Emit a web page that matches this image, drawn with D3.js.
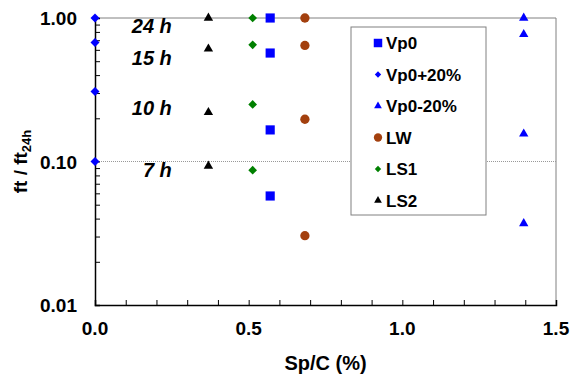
<!DOCTYPE html>
<html>
<head>
<meta charset="utf-8">
<script src="https://cdn.jsdelivr.net/npm/d3@7"></script>
<style>
  body { margin: 0; background: #fff; }
  text { font-family: Arial, "Liberation Sans", sans-serif; font-weight: bold; }
</style>
</head>
<body>
<div id="chart"></div>
<script>
// series x positions (Sp/C %) and ft/ft24h values, ordered 24h, 15h, 10h, 7h
const seriesNames = ["Vp0", "Vp0+20%", "Vp0-20%", "LW", "LS1", "LS2"];
const seriesX = [0.57, 0.0, 1.395, 0.683, 0.513, 0.369];
const vp0 = [1.0, 0.57, 0.166, 0.0575];
const vp0Plus = [1.0, 0.676, 0.307, 0.1];
const vp0Minus = [1.0, 0.77, 0.156, 0.037];
const lw = [1.0, 0.644, 0.197, 0.0304];
const ls1 = [1.0, 0.65, 0.25, 0.087];
const ls2 = [1.0, 0.61, 0.22, 0.093];
const seriesValues = [vp0, vp0Plus, vp0Minus, lw, ls1, ls2];

const hourLabels = ["24 h", "15 h", "10 h", "7 h"];
const hourLabelY = [0.78, 0.472, 0.211, 0.078];

const xTicks = [0.0, 0.5, 1.0, 1.5];
const yTicks = [1.0, 0.1, 0.01];

// diamonds are squares turned 45 degrees
const shapes = ["square", "diamond", "triangle", "circle", "diamond", "triangle"];
const colors = ["#0000ff", "#0000ff", "#0000ff", "#a3400e", "#008000", "#000000"];
const sizes = [84, 40, 38, 68, 38, 38];
const legendSizes = [72, 20, 26, 54, 20, 26];

function marker(shape, size) {
    const type = { square: d3.symbolSquare, diamond: d3.symbolSquare, triangle: d3.symbolTriangle, circle: d3.symbolCircle }[shape];
    return d3.symbol().type(type).size(size)();
}
const rot = shape => shape === "diamond" ? " rotate(45)" : "";

const width = 572, height = 379;
const margin = { top: 18, right: 16, bottom: 74, left: 95 };

const svg = d3.select("#chart").append("svg")
    .attr("width", width)
    .attr("height", height);

const x = d3.scaleLinear().domain([0, 1.5]).range([margin.left, width - margin.right]);
const y = d3.scaleLog().domain([0.01, 1]).range([height - margin.bottom, margin.top]);

// frame lines (top, right) and grid at 0.10
svg.append("line")
    .attr("x1", x(0)).attr("x2", x(1.5))
    .attr("y1", y(1)).attr("y2", y(1))
    .attr("stroke", "#808080").attr("stroke-width", 1);
svg.append("line")
    .attr("x1", x(1.5)).attr("x2", x(1.5))
    .attr("y1", y(1)).attr("y2", y(0.01))
    .attr("stroke", "#808080").attr("stroke-width", 1);
svg.append("line")
    .attr("x1", x(0)).attr("x2", x(1.5))
    .attr("y1", y(0.1)).attr("y2", y(0.1))
    .attr("stroke", "#999").attr("stroke-width", 1)
    .attr("stroke-dasharray", "1,1");

// x axis: ticks inside every 0.1
const xAxis = d3.axisBottom(x)
    .tickValues(d3.range(0, 1.51, 0.1))
    .tickSize(-5)
    .tickFormat("");
svg.append("g")
    .attr("transform", `translate(0,${y(0.01)})`)
    .call(xAxis)
    .call(g => g.select(".domain").attr("stroke", "#000").attr("stroke-width", 1.5))
    .call(g => g.selectAll(".tick line").attr("stroke", "#000"));

svg.selectAll(".xlab")
    .data(xTicks)
    .enter().append("text")
    .attr("x", d => x(d))
    .attr("y", y(0.01) + 30)
    .attr("text-anchor", "middle")
    .attr("font-size", 19)
    .text(d => d.toFixed(1));

// y axis: log minor ticks inside
const yMinor = [];
[0.01, 0.1].forEach(dec => { for (let k = 1; k <= 9; k++) yMinor.push(dec * k); });
yMinor.push(1);
const yAxis = d3.axisLeft(y)
    .tickValues(yMinor)
    .tickSize(-5)
    .tickFormat("");
svg.append("g")
    .attr("transform", `translate(${x(0)},0)`)
    .call(yAxis)
    .call(g => g.select(".domain").attr("stroke", "#000").attr("stroke-width", 1.5))
    .call(g => g.selectAll(".tick line").attr("stroke", "#000"));

svg.selectAll(".ylab")
    .data(yTicks)
    .enter().append("text")
    .attr("x", x(0) - 18)
    .attr("y", d => y(d) + 7)
    .attr("text-anchor", "end")
    .attr("font-size", 19)
    .text(d => d.toFixed(2));

// axis titles
svg.append("text")
    .attr("x", (x(0) + x(1.5)) / 2)
    .attr("y", 370)
    .attr("text-anchor", "middle")
    .attr("font-size", 20)
    .text("Sp/C (%)");

const yTitle = svg.append("text")
    .attr("transform", `translate(27,${(y(1) + y(0.01)) / 2}) rotate(-90)`)
    .attr("text-anchor", "middle")
    .attr("font-size", 19);
yTitle.append("tspan").text("ft / ft");
yTitle.append("tspan").attr("font-size", 13).attr("dy", 4).text("24h");

// hour labels
svg.selectAll(".hour")
    .data(hourLabels)
    .enter().append("text")
    .attr("x", x(0.25))
    .attr("y", (d, i) => y(hourLabelY[i]))
    .attr("text-anchor", "end")
    .attr("font-size", 20)
    .attr("font-style", "italic")
    .text(d => d);

// points
seriesNames.forEach((name, s) => {
    svg.selectAll(".pt" + s)
        .data(seriesValues[s])
        .enter().append("path")
        .attr("d", marker(shapes[s], sizes[s]))
        .attr("transform", d => `translate(${x(seriesX[s])},${y(d)})` + rot(shapes[s]))
        .attr("fill", colors[s]);
});

// legend
const legend = svg.append("g").attr("transform", "translate(351,27)");
legend.append("rect")
    .attr("width", 135).attr("height", 188)
    .attr("fill", "#fff")
    .attr("stroke", "#808080").attr("stroke-width", 1);
const items = legend.selectAll(".item")
    .data(seriesNames)
    .enter().append("g")
    .attr("transform", (d, i) => `translate(27,${16 + i * 31.5})`);
items.append("path")
    .attr("d", (d, i) => marker(shapes[i], legendSizes[i]))
    .attr("transform", (d, i) => rot(shapes[i]))
    .attr("fill", (d, i) => colors[i]);
items.append("text")
    .attr("x", 8)
    .attr("y", 6)
    .attr("font-size", 17)
    .text(d => d);
</script>
</body>
</html>
